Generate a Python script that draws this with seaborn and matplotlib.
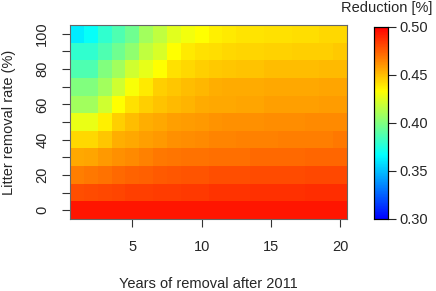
import numpy as np
import pandas as pd
import matplotlib
matplotlib.use("Agg")
import matplotlib.pyplot as plt
import seaborn as sns
from matplotlib.colors import LinearSegmentedColormap

# ---- data ----
years = list(range(1, 21))
rates = [0, 10, 20, 30, 40, 50, 60, 70, 80, 90, 100]

red_0 = [0.494] * 20
red_10 = [0.479, 0.480, 0.481, 0.482, 0.483, 0.483, 0.484, 0.484, 0.485, 0.485,
          0.486, 0.486, 0.486, 0.487, 0.487, 0.487, 0.487, 0.488, 0.488, 0.488]
red_20 = [0.467, 0.468, 0.470, 0.472, 0.474, 0.475, 0.476, 0.477, 0.478, 0.478,
          0.479, 0.479, 0.479, 0.480, 0.480, 0.480, 0.480, 0.481, 0.481, 0.481]
red_30 = [0.456, 0.457, 0.460, 0.462, 0.464, 0.466, 0.468, 0.469, 0.470, 0.470,
          0.471, 0.471, 0.471, 0.472, 0.472, 0.472, 0.472, 0.473, 0.473, 0.473]
red_40 = [0.443, 0.443, 0.448, 0.454, 0.456, 0.458, 0.460, 0.462, 0.463, 0.464,
          0.465, 0.465, 0.466, 0.466, 0.466, 0.467, 0.467, 0.467, 0.467, 0.468]
red_50 = [0.428, 0.428, 0.437, 0.446, 0.450, 0.454, 0.456, 0.458, 0.459, 0.460,
          0.461, 0.462, 0.462, 0.462, 0.463, 0.463, 0.463, 0.464, 0.464, 0.464]
red_60 = [0.409, 0.409, 0.421, 0.433, 0.441, 0.446, 0.449, 0.451, 0.453, 0.455,
          0.456, 0.456, 0.457, 0.457, 0.458, 0.458, 0.458, 0.458, 0.459, 0.459]
red_70 = [0.400, 0.400, 0.409, 0.421, 0.432, 0.439, 0.446, 0.448, 0.450, 0.452,
          0.454, 0.455, 0.455, 0.455, 0.456, 0.456, 0.456, 0.456, 0.457, 0.457]
red_80 = [0.387, 0.387, 0.400, 0.409, 0.421, 0.427, 0.433, 0.441, 0.443, 0.446,
          0.447, 0.448, 0.449, 0.449, 0.450, 0.450, 0.450, 0.450, 0.451, 0.451]
red_90 = [0.379, 0.379, 0.387, 0.396, 0.404, 0.417, 0.423, 0.433, 0.439, 0.441,
          0.442, 0.443, 0.444, 0.444, 0.445, 0.445, 0.446, 0.446, 0.446, 0.447]
red_100 = [0.362, 0.368, 0.379, 0.387, 0.396, 0.409, 0.417, 0.425, 0.430, 0.433,
           0.437, 0.439, 0.440, 0.440, 0.441, 0.441, 0.442, 0.442, 0.443, 0.443]

rows = [red_0, red_10, red_20, red_30, red_40, red_50,
        red_60, red_70, red_80, red_90, red_100]

x_tick_years = [5, 10, 15, 20]
cbar_ticks = [0.30, 0.35, 0.40, 0.45, 0.50]
vmin, vmax = 0.30, 0.50

# ---- style ----
sns.set_style("white")
plt.rcParams["font.family"] = ["Liberation Sans", "DejaVu Sans"]
FS = 10.5

cmap = LinearSegmentedColormap.from_list(
    "bcyr", ["#0000FF", "#00FFFF", "#FFFF00", "#FF0000"], N=256)

df = pd.DataFrame(rows[::-1], index=rates[::-1], columns=years)

W, H = 436, 291
fig = plt.figure(figsize=(W / 100, H / 100), dpi=100)
ax = fig.add_axes([70 / W, 1 - 219 / H, 277 / W, 194 / H])
cax = fig.add_axes([374 / W, 1 - 219 / H, 14 / W, 192 / H])

sns.heatmap(df, ax=ax, cbar_ax=cax, cmap=cmap, vmin=vmin, vmax=vmax,
            cbar_kws={"ticks": cbar_ticks})

# axis ticks
ax.set_xticks([years.index(y) + 0.5 for y in x_tick_years])
ax.set_xticklabels([str(y) for y in x_tick_years], rotation=0)
ypos = [len(rates) - 1 - i + 0.5 for i in range(len(rates))]
ax.set_yticks(ypos)
ax.set_yticklabels([str(r) if r % 20 == 0 else "" for r in rates],
                   rotation=90, va="center")
ax.tick_params(axis="both", which="major", length=6, width=0.8,
               color="#333333", labelsize=FS, bottom=True, left=True)
ax.tick_params(axis="x", pad=9)
ax.tick_params(axis="y", pad=9)

for s in ax.spines.values():
    s.set_visible(True)
    s.set_color("#666666")
    s.set_linewidth(0.8)

ax.set_xlabel("Years of removal after 2011", fontsize=FS)
ax.set_ylabel("Litter removal rate (%)", fontsize=FS)
ax.xaxis.set_label_coords(0.5, -0.30)
ax.yaxis.set_label_coords(-0.195, 0.5)

# colorbar
cax.tick_params(length=6, width=0.8, pad=2, labelsize=FS, right=True)
cax.set_yticklabels(["%.2f" % t for t in cbar_ticks])
for s in cax.spines.values():
    s.set_visible(True)
    s.set_color("black")
    s.set_linewidth(0.8)
fig.text(432 / W, 1 - 8 / H, "Reduction [%]", ha="right", va="center",
         fontsize=FS)

fig.savefig("out.png", dpi=100)
